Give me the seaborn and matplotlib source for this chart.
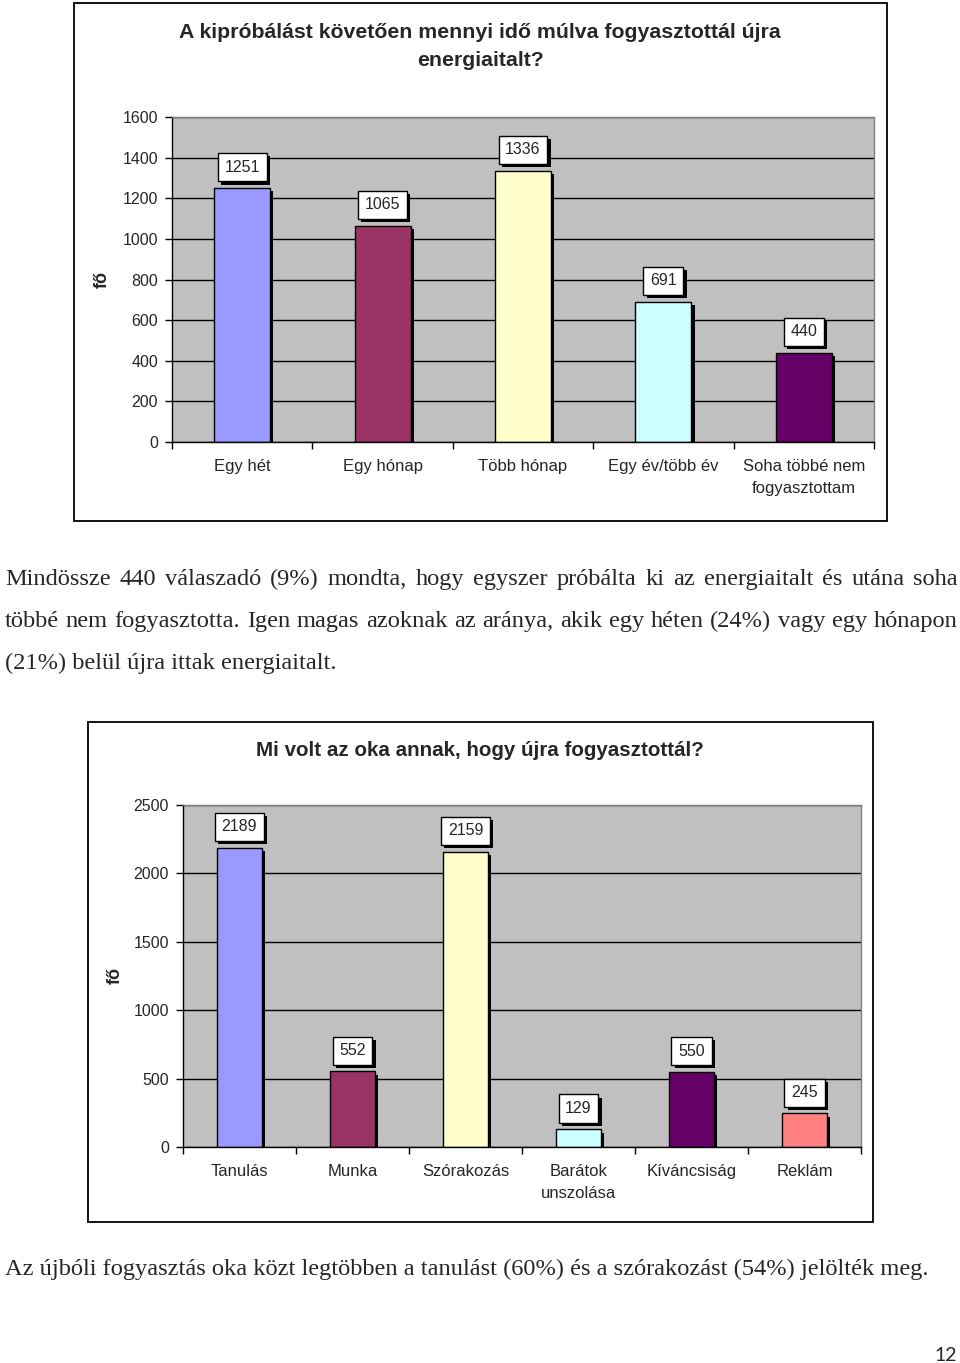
import matplotlib
matplotlib.use("Agg")
import matplotlib.pyplot as plt
import matplotlib.patheffects as pe
from matplotlib.patches import Rectangle
import seaborn as sns
import pandas as pd
import numpy as np

# ---------------- data ----------------
title1 = "A kipróbálást követően mennyi idő múlva fogyasztottál újra\nenergiaitalt?"
cats1 = ["Egy hét", "Egy hónap", "Több hónap", "Egy év/több év",
         "Soha többé nem\nfogyasztottam"]
vals1 = [1251, 1065, 1336, 691, 440]
colors1 = ["#9999FF", "#993366", "#FFFFCC", "#CCFFFF", "#660066"]
yticks1 = [0, 200, 400, 600, 800, 1000, 1200, 1400, 1600]

title2 = "Mi volt az oka annak, hogy újra fogyasztottál?"
cats2 = ["Tanulás", "Munka", "Szórakozás", "Barátok\nunszolása",
         "Kíváncsiság", "Reklám"]
vals2 = [2189, 552, 2159, 129, 550, 245]
colors2 = ["#9999FF", "#993366", "#FFFFCC", "#CCFFFF", "#660066", "#FF8080"]
yticks2 = [0, 500, 1000, 1500, 2000, 2500]

ylabel = "fő"

para1 = [
    "Mindössze 440 válaszadó (9%) mondta, hogy egyszer próbálta ki az energiaitalt és utána soha",
    "többé nem fogyasztotta. Igen magas azoknak az aránya, akik egy héten (24%) vagy egy hónapon",
    "(21%) belül újra ittak energiaitalt.",
]
para2 = ["Az újbóli fogyasztás oka közt legtöbben a tanulást (60%) és a szórakozást (54%) jelölték meg."]
page_no = "12"

# ---------------- figure ----------------
sns.set_style("white")
plt.rcParams["font.family"] = ["Liberation Sans", "DejaVu Sans"]

W, H = 960, 1363
fig = plt.figure(figsize=(W / 100, H / 100), dpi=100)
renderer = fig.canvas.get_renderer()


def fx(x):
    return x / W


def fy(y):
    return 1 - y / H


def text_width(s, size, family, weight="normal"):
    t = fig.text(0, 0, s, fontsize=size, family=family, fontweight=weight)
    w = t.get_window_extent(renderer).width
    t.remove()
    return w


def fit_size(s, target_px, family, weight="normal"):
    return 20 * target_px / text_width(s, 20, family, weight)


# chart frames
for (x0, y0, x1, y1) in [(74, 3, 887, 521), (88, 722, 873, 1222)]:
    fig.patches.append(Rectangle((fx(x0), fy(y1)), (x1 - x0) / W, (y1 - y0) / H,
                                 transform=fig.transFigure, fill=False,
                                 ec="black", lw=1.3, zorder=0))

shadow = [pe.SimplePatchShadow(offset=(2.3, -2.3), shadow_rgbFace="black", alpha=1.0),
          pe.Normal()]


def draw_chart(rect_px, cats, vals, colors, yticks, title, title_lines_px,
               title_width_px, ylab_px):
    x0, y0, x1, y1 = rect_px
    ax = fig.add_axes([fx(x0), fy(y1), (x1 - x0) / W, (y1 - y0) / H])
    df = pd.DataFrame({"cat": cats, "val": vals})
    sns.barplot(data=df, x="cat", y="val", hue="cat", order=cats, hue_order=cats,
                palette=colors, width=0.4, saturation=1, dodge=False,
                edgecolor="black", linewidth=1, legend=False, ax=ax)
    n = len(cats)
    ax.set_facecolor("#C0C0C0")
    ax.set_xlim(-0.5, n - 0.5)
    ax.set_ylim(yticks[0], yticks[-1])
    ax.set_yticks(yticks)
    ax.yaxis.grid(True, color="black", lw=1)
    ax.xaxis.grid(False)
    ax.set_axisbelow(True)
    for side in ["top", "right"]:
        ax.spines[side].set_color("#808080")
        ax.spines[side].set_linewidth(1)
    for side in ["left", "bottom"]:
        ax.spines[side].set_color("black")
        ax.spines[side].set_linewidth(1)
        ax.spines[side].set_visible(True)
    ax.set_xlabel("")
    ax.set_ylabel("")
    ax.tick_params(axis="y", length=5, width=1, direction="out", color="black",
                   labelsize=11.5, pad=5, left=True)
    ax.set_xticks(range(n), cats, linespacing=1.6, va="top")
    ax.tick_params(axis="x", which="major", length=0, labelsize=12, pad=12)
    ax.set_xticks(np.arange(-0.5, n, 1.0), minor=True)
    ax.tick_params(axis="x", which="minor", length=5, width=1, direction="out",
                   color="black", bottom=True)

    for p in ax.patches:
        p.set_path_effects(shadow)
        v = p.get_height()
        ann = ax.annotate(f"{v:.0f}", xy=(p.get_x() + p.get_width() / 2, v),
                          xytext=(0, 9.5), textcoords="offset points",
                          ha="center", va="bottom", fontsize=11.5, zorder=5,
                          bbox=dict(boxstyle="square,pad=0.42", fc="white",
                                    ec="black", lw=1))
        ann.get_bbox_patch().set_path_effects(shadow)

    # title
    first = title.split("\n")[0]
    tsize = fit_size(first, title_width_px, ["Liberation Sans"], "bold")
    for line, ty in zip(title.split("\n"), title_lines_px):
        fig.text(fx(480), fy(ty), line,
                 ha="center", va="center", fontsize=tsize, fontweight="bold")
    fig.text(fx(ylab_px[0]), fy(ylab_px[1]), ylabel, rotation=90, ha="center",
             va="center", fontsize=13, fontweight="bold")
    return ax


draw_chart((172, 117, 874, 442), cats1, vals1, colors1, yticks1, title1,
           [33, 60], 599, (102, 280))
draw_chart((183, 805, 861, 1147), cats2, vals2, colors2, yticks2, title2,
           [750], 446, (115, 975))

# ---------------- body text (justified, serif) ----------------
serif = ["Liberation Serif", "DejaVu Serif"]
psize = fit_size(para2[0], 923, serif)


def justified(line, x0, x1, base_y, size, justify=True):
    words = line.split(" ")
    if not justify:
        fig.text(fx(x0), fy(base_y), line, ha="left", va="baseline",
                 fontsize=size, family=serif)
        return
    widths = [text_width(w, size, serif) for w in words]
    gap = (x1 - x0 - sum(widths)) / (len(words) - 1)
    x = x0
    for w, wd in zip(words, widths):
        fig.text(fx(x), fy(base_y), w, ha="left", va="baseline",
                 fontsize=size, family=serif)
        x += wd + gap


justified(para1[0], 5, 958, 585, psize)
justified(para1[1], 5, 958, 627, psize)
justified(para1[2], 5, 958, 669, psize, justify=False)
justified(para2[0], 5, 928, 1275, psize, justify=False)

fig.text(fx(957), fy(1361), page_no, ha="right", va="baseline", fontsize=14,
         family=["Lato", "DejaVu Sans"])

fig.savefig("out.png", dpi=100)
